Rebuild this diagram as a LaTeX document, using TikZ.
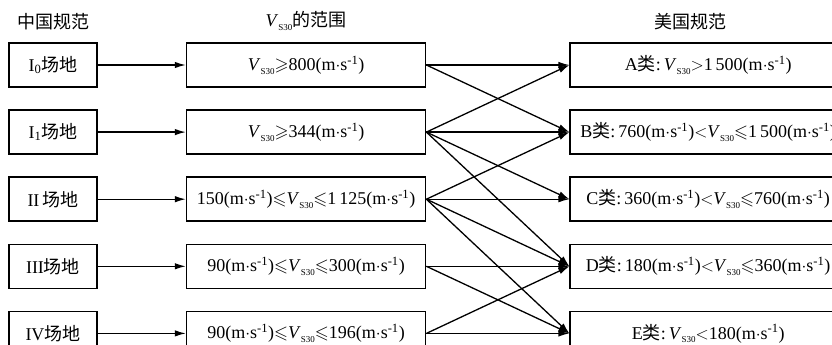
\documentclass[tikz,border=0pt]{standalone}
\usepackage{amssymb}
\usepackage{fontspec}
\setmainfont{Liberation Serif}
\newfontfamily\cjk{Noto Sans CJK SC}
\usetikzlibrary{arrows.meta, positioning}
\newcommand{\vs}{\textit{V}\raisebox{-0.45ex}{\fontsize{9}{9}\selectfont S30}}
\newcommand{\ms}{(m$\cdot$s\textsuperscript{-1})}
\newcommand{\lei}{{\cjk 类}:\,}
\tikzset{> = { Latex[length = 11pt, width = 6.5pt] }}

\begin{document}
\begin{tikzpicture}[->, line width = 1.3pt, font = \fontsize{18}{20}\selectfont, node distance = 21.5pt and 88pt, site/.style = { draw, line width = 1.6pt, minimum width = 88pt, minimum height = 44pt }, vrange/.style = { draw, line width = 1.6pt, minimum width = 239pt, minimum height = 44pt }, uscls/.style = { draw, line width = 1.6pt, minimum width = 276pt, minimum height = 44pt }]
				\useasboundingbox (0,0) rectangle (832pt,-345pt);

				\node [site] (l0) at (53pt,-65pt) {I\textsubscript{0}{\cjk 场地}};
				\node [site, below = of l0] (l1) {I\textsubscript{1}{\cjk 场地}};
				\node [site, below = of l1] (l2) {II\,{\cjk 场地}};
				\node [site, below = of l2] (l3) {III{\cjk 场地}};
				\node [site, below = of l3] (l4) {IV{\cjk 场地}};

				\node [vrange, right = of l0] (m0) {\vs$\geqslant$800\ms};
				\node [vrange, right = of l1] (m1) {\vs$\geqslant$344\ms};
				\node [vrange, right = of l2] (m2) {150\ms$\leqslant$\vs$\leqslant$1\,125\ms};
				\node [vrange, right = of l3] (m3) {90\ms$\leqslant$\vs$\leqslant$300\ms};
				\node [vrange, right = of l4] (m4) {90\ms$\leqslant$\vs$\leqslant$196\ms};

				\node [uscls, right = 143pt of m0] (rA) {A\lei\vs$>$1\,500\ms};
				\node [uscls, right = 143pt of m1] (rB) {B\lei760\ms$<$\vs$\leqslant$1\,500\ms};
				\node [uscls, right = 143pt of m2] (rC) {C\lei360\ms$<$\vs$\leqslant$760\ms};
				\node [uscls, right = 143pt of m3] (rD) {D\lei180\ms$<$\vs$\leqslant$360\ms};
				\node [uscls, right = 143pt of m4] (rE) {E\lei\vs$<$180\ms};

				\node [above = 8pt of l0] (h1) {\cjk 中国规范};
				\node [above = 8pt of m0] (h2) {\vs{\cjk 的范围}};
				\node [above = 8pt of rA, xshift = -18pt] (h3) {\cjk 美国规范};

				\draw (l0) -- (m0);
				\draw (l1) -- (m1);
				\draw (l2) -- (m2);
				\draw (l3) -- (m3);
				\draw (l4) -- (m4);

				\draw (m0.east) -- (rA.west);
				\draw (m0.east) -- (rB.west);

				\draw (m1.east) -- (rA.west);
				\draw (m1.east) -- (rB.west);
				\draw (m1.east) -- (rC.west);
				\draw (m1.east) -- (rD.west);

				\draw (m2.east) -- (rB.west);
				\draw (m2.east) -- (rC.west);
				\draw (m2.east) -- (rD.west);
				\draw (m2.east) -- (rE.west);

				\draw (m3.east) -- (rD.west);
				\draw (m3.east) -- (rE.west);

				\draw (m4.east) -- (rD.west);
				\draw (m4.east) -- (rE.west);
			\end{tikzpicture}
\end{document}
